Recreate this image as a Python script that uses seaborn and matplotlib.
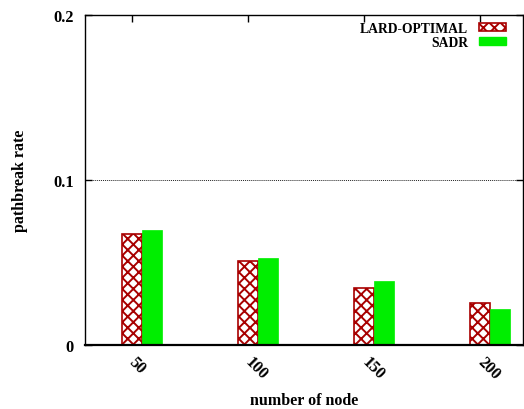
import matplotlib
matplotlib.use("Agg")
import matplotlib.pyplot as plt
import seaborn as sns
import pandas as pd
from matplotlib.patches import Patch

nodes = ["50", "100", "150", "200"]
lard_optimal = [0.0673, 0.0509, 0.0345, 0.0255]
sadr = [0.0697, 0.0527, 0.0388, 0.0218]
series_names = ["LARD-OPTIMAL", "SADR"]
y_ticks = [0, 0.1, 0.2]
y_tick_labels = ["0", "0.1", "0.2"]

df = pd.DataFrame({
    "nodes": nodes * 2,
    "rate": lard_optimal + sadr,
    "method": [series_names[0]] * len(nodes) + [series_names[1]] * len(nodes),
})

sns.set_style("white")
plt.rcParams["font.family"] = ["Liberation Serif", "DejaVu Serif"]
plt.rcParams["font.weight"] = "bold"
plt.rcParams["text.color"] = "black"
plt.rcParams["axes.labelcolor"] = "black"
plt.rcParams["xtick.color"] = "black"
plt.rcParams["ytick.color"] = "black"
plt.rcParams["hatch.linewidth"] = 1.4

RED = "#a80000"
GREEN = "#00ee00"
TICK_FS = 11.8
LABEL_FS = 11.5
LEG_FS = 9.8

fig = plt.figure(figsize=(5.24, 4.10), dpi=100)
ax = fig.add_axes([85 / 524, 64 / 410, (523 - 85) / 524, (346 - 16) / 410])

sns.barplot(data=df, x="nodes", y="rate", hue="method", order=nodes,
            hue_order=series_names, palette=[RED, GREEN], width=0.344,
            dodge=True, ax=ax, legend=False, saturation=1)

for bar in ax.containers[0]:
    bar.set_facecolor("white")
    bar.set_edgecolor(RED)
    bar.set_hatch("xxx")
    bar.set_linewidth(1.2)
for bar in ax.containers[1]:
    bar.set_facecolor(GREEN)
    bar.set_edgecolor(GREEN)
    bar.set_linewidth(0.5)

ax.set_ylim(0, 0.2)
ax.set_xlim(-0.486, 3.28)
ax.set_yticks(y_ticks)
ax.set_yticklabels(y_tick_labels, fontsize=TICK_FS, fontweight="bold", color="black")
ax.set_xticks([i - 0.086 for i in range(len(nodes))])
ax.set_xticklabels(nodes, fontsize=TICK_FS, fontweight="bold", rotation=-45,
                   ha="left", va="center", rotation_mode="anchor", color="black")
ax.tick_params(axis="both", direction="in", length=5, width=1,
               top=True, right=True, bottom=True, left=True, colors="black")
ax.tick_params(axis="x", pad=10)
ax.tick_params(axis="y", pad=8)

ax.axhline(0.1, color="#222222", linestyle=(0, (1, 1)), linewidth=0.7, zorder=0)

for side in ["left", "right", "top"]:
    ax.spines[side].set_visible(True)
    ax.spines[side].set_color("black")
    ax.spines[side].set_linewidth(1.0)
ax.spines["bottom"].set_visible(True)
ax.spines["bottom"].set_color("black")
ax.spines["bottom"].set_linewidth(1.6)

ax.set_xlabel("number of node", fontsize=LABEL_FS, fontweight="bold", labelpad=7, color="black")
ax.set_ylabel("pathbreak rate", fontsize=LABEL_FS, fontweight="bold", labelpad=18, color="black")

handles = [
    Patch(facecolor="white", edgecolor=RED, hatch="xxx", linewidth=1.2, label=series_names[0]),
    Patch(facecolor=GREEN, edgecolor=GREEN, label=series_names[1]),
]
leg = ax.legend(handles=handles, loc="upper right", frameon=False, markerfirst=False,
                handlelength=2.0, handleheight=0.45, labelspacing=0.08,
                borderaxespad=0.0, borderpad=0.5, handletextpad=0.8,
                bbox_to_anchor=(1 - 10 / 438, 1.0),
                prop={"weight": "bold", "size": LEG_FS})
for t in leg.get_texts():
    t.set_color("black")

fig.savefig("out.png", dpi=100)
